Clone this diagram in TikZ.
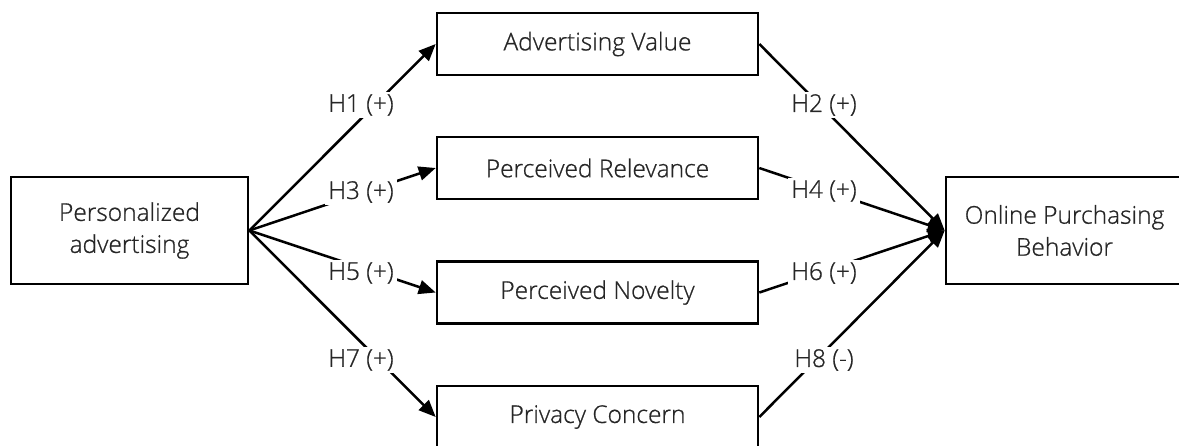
\documentclass[tikz,border=0pt]{standalone}
\usepackage{fontspec}
\setmainfont{Open Sans}[UprightFont={* Light}, FakeBold=0.8]
\usetikzlibrary{arrows.meta}
\definecolor{txt}{HTML}{262626}
\tikzset{
  box/.style={draw=black, line width=2.6pt, fill=white, text=txt, align=center,
    font=\fontsize{24.5}{32}\selectfont, inner sep=0pt},
  midbox/.style={box, minimum width=321pt, minimum height=62pt},
  sidebox/.style={box, minimum width=237pt, minimum height=107pt},
  arr/.style={draw=black, line width=2.5pt, -{Triangle[length=17pt,width=14pt]}},
  lbl/.style={fill=white, text=txt, font=\fontsize{24.5}{32}\selectfont, inner xsep=3pt, inner ysep=2pt}
}
\begin{document}
\begin{tikzpicture}[x=1pt,y=-1pt]
\useasboundingbox (0,0) rectangle (1179,445);
\clip (0,0) rectangle (1179,445);
\node[sidebox] (pa) at (129.5,230.5) {Personalized\\advertising};
\node[midbox] (av) at (597.5,44) {Advertising Value};
\node[midbox] (pr) at (597.5,168) {Perceived Relevance};
\node[midbox] (pn) at (597.5,292.5) {Perceived Novelty};
\node[midbox] (pc) at (597.5,417) {Privacy Concern};
\node[sidebox] (op) at (1064.5,230.5) {Online Purchasing\\Behavior};
\draw[arr] (pa.east) -- (av.west);
\draw[arr] (pa.east) -- (pr.west);
\draw[arr] (pa.east) -- (pn.west);
\draw[arr] (pa.east) -- (pc.west);
\draw[arr] (av.east) -- (op.west);
\draw[arr] (pr.east) -- (op.west);
\draw[arr] (pn.east) -- (op.west);
\draw[arr] (pc.east) -- (op.west);
\node[lbl] (h1) at (361,105) {H1 (+)};
\node[lbl] (h3) at (361,192) {H3 (+)};
\node[lbl] (h5) at (361,273) {H5 (+)};
\node[lbl] (h7) at (361,360) {H7 (+)};
\node[lbl] (h2) at (824,105) {H2 (+)};
\node[lbl] (h4) at (824,191) {H4 (+)};
\node[lbl] (h6) at (824,273) {H6 (+)};
\node[lbl] (h8) at (824,360) {H8 (-)};
\end{tikzpicture}
\end{document}
